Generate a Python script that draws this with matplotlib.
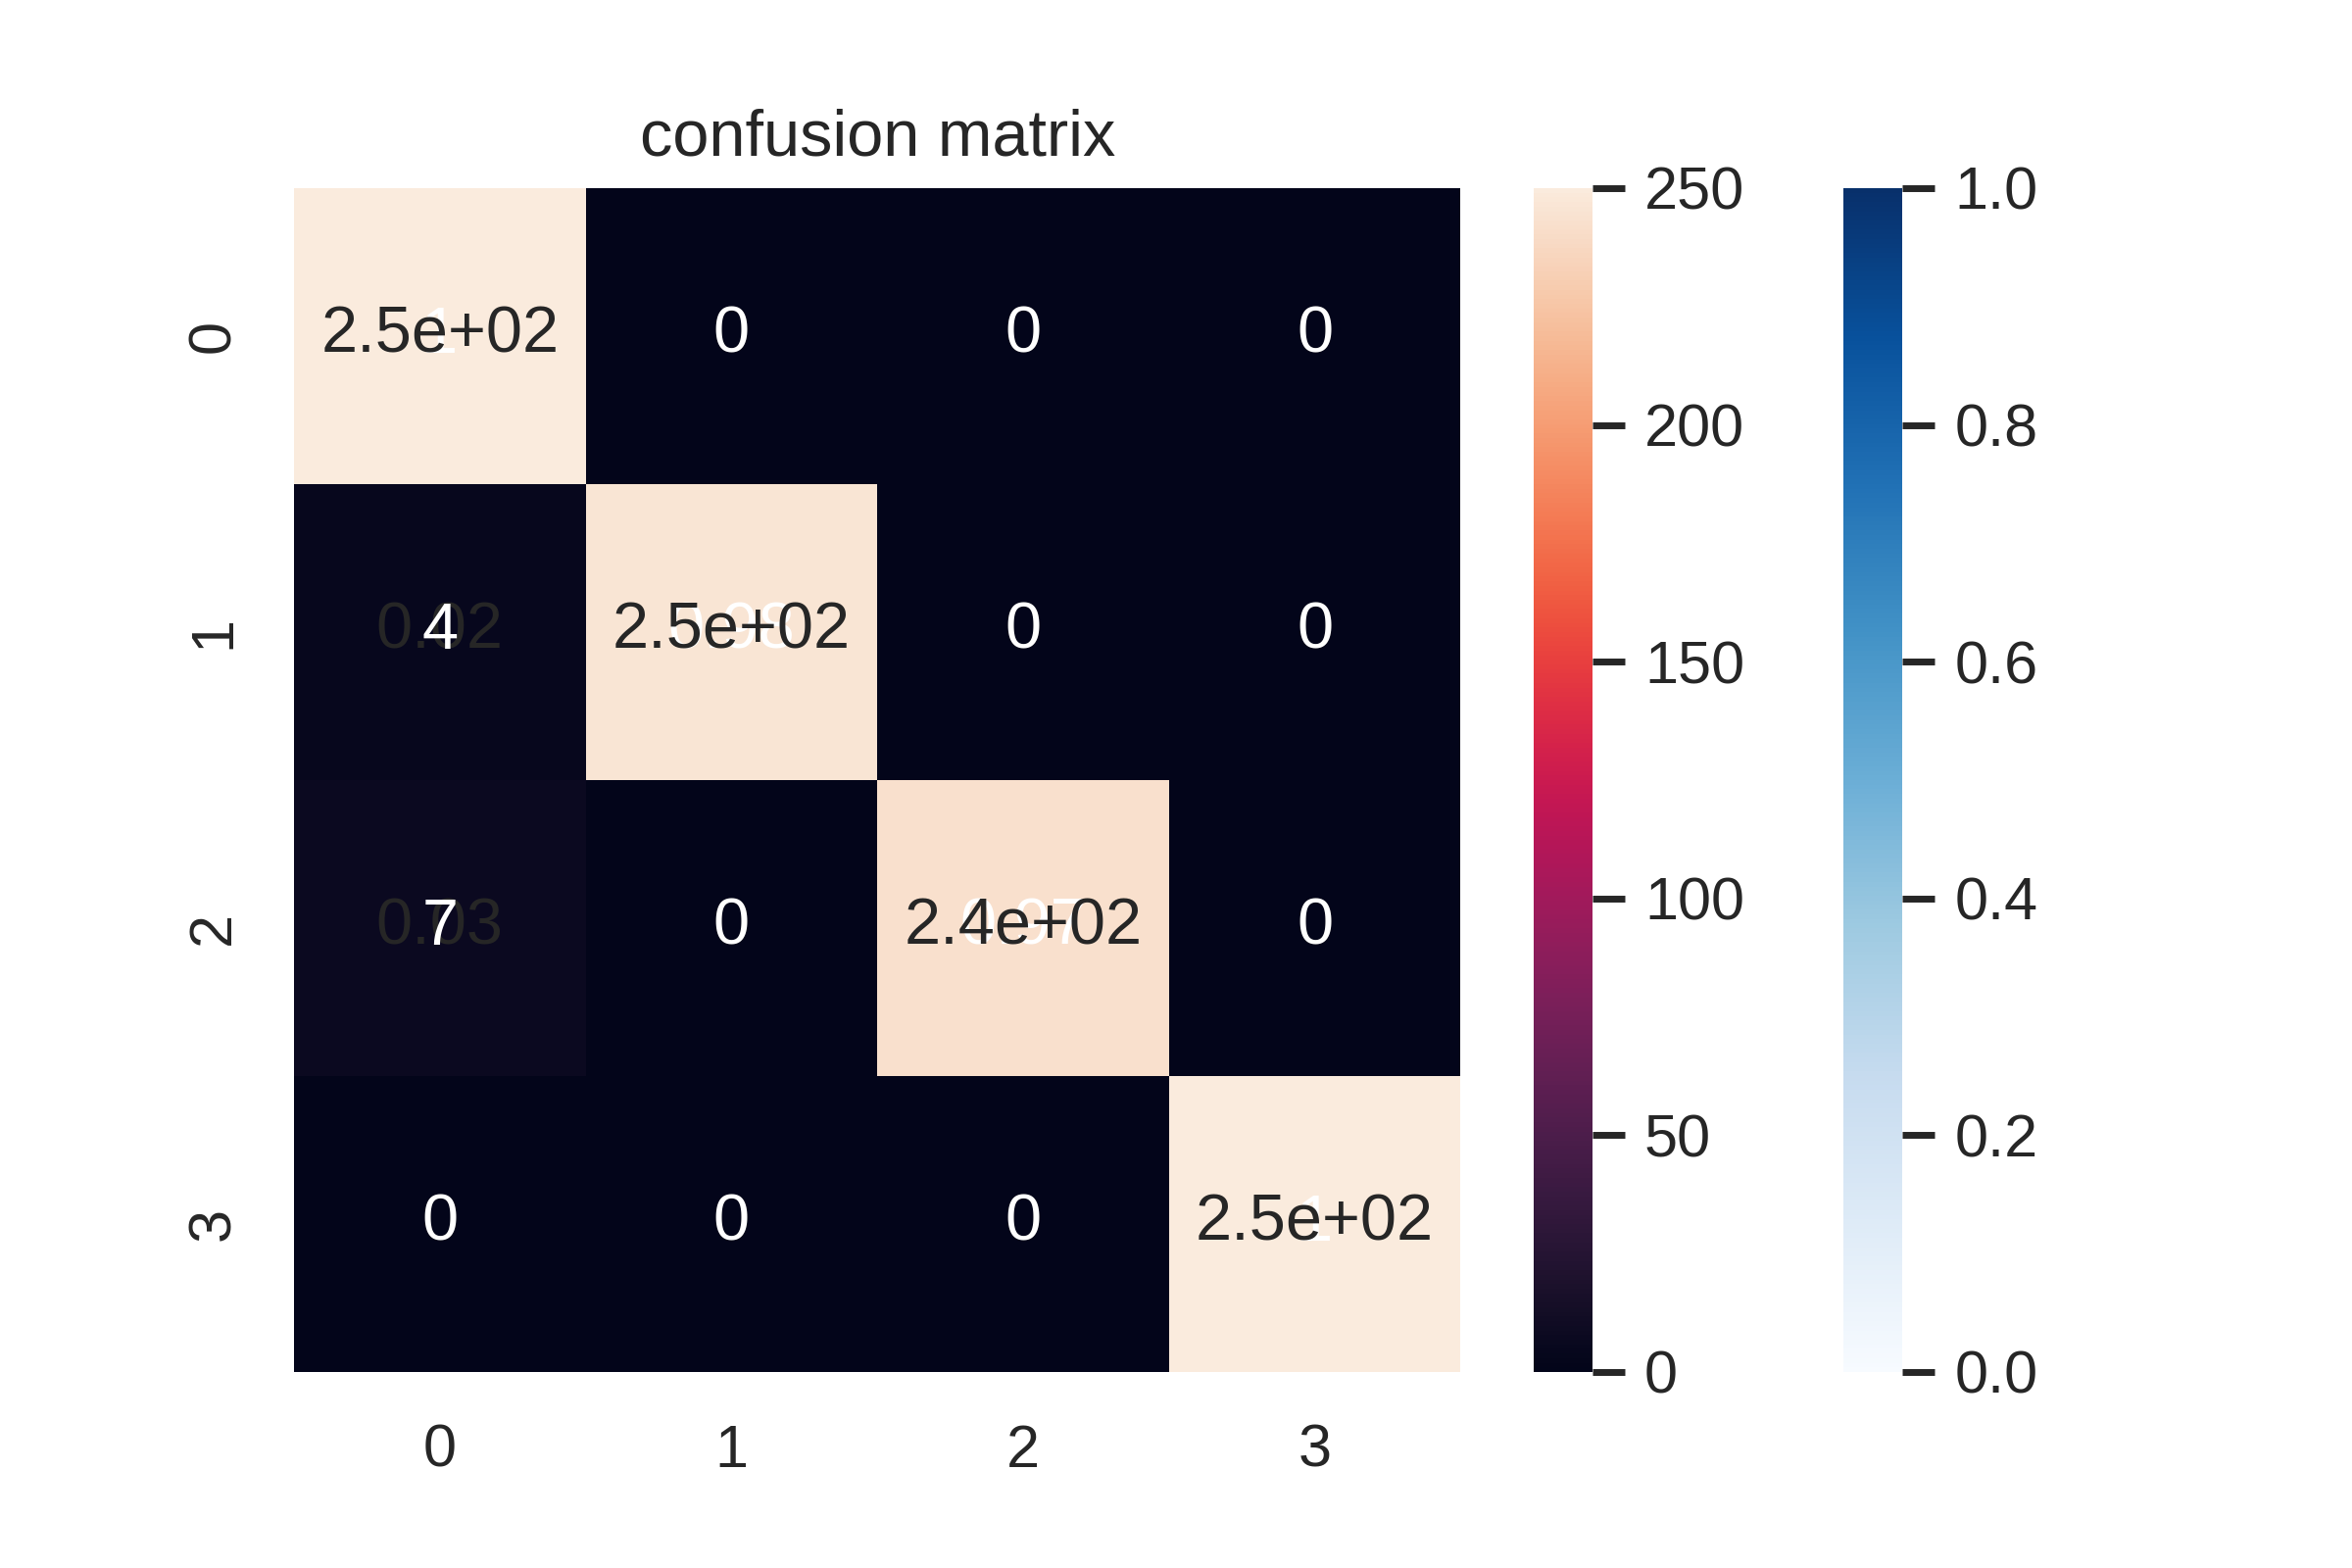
import numpy as np
import seaborn as sns
import matplotlib
matplotlib.use("Agg")
import matplotlib.pyplot as plt

labels = ["0", "1", "2", "3"]
counts = [[250, 0, 0, 0],
          [4, 246, 0, 0],
          [7, 0, 243, 0],
          [0, 0, 0, 250]]
normalized = [[1, 0, 0, 0],
              [0.02, 0.98, 0, 0],
              [0.03, 0, 0.97, 0],
              [0, 0, 0, 1]]

sns.set()
plt.rcParams["font.family"] = ["Liberation Sans", "DejaVu Sans"]

fig = plt.figure(figsize=(6, 4), dpi=400)
fig.subplots_adjust(bottom=0.125)
ax = plt.gca()

# normalized matrix first, then the counts on top of it
sns.heatmap(np.array(normalized), annot=True, cmap="Blues", ax=ax,
            xticklabels=labels, yticklabels=labels)
sns.heatmap(np.array(counts), annot=True, ax=ax,
            xticklabels=labels, yticklabels=labels)

plt.title("confusion matrix")
plt.yticks(rotation=90)

for cax in fig.axes[1:]:
    cax.tick_params(axis="y", length=6, width=1.25, color="#262626")

plt.savefig("out.png")
